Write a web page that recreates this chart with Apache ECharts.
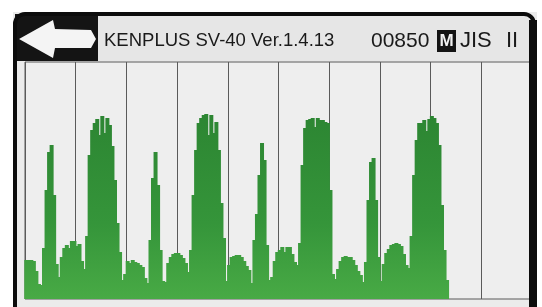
<!DOCTYPE html>
<html>
<head>
<meta charset="utf-8">
<script src="https://cdn.jsdelivr.net/npm/echarts@6/dist/echarts.min.js"></script>
<style>
  html, body { margin: 0; padding: 0; background: #fff; }
  #chart { width: 542px; height: 307px; }
</style>
</head>
<body>
<div id="chart"></div>
<script>
// header texts
var titleText = 'KENPLUS SV-40 Ver.1.4.13'
var counterText = '00850'
var modeText = 'M'
var stdText1 = 'JIS'
var stdText2 = 'II'

// x grid: 10 divisions of 20 samples
var xMax = 200
var xStep = 20
var yMax = 237

// waveform heights, one per sample
var levels = [
  39, 39, 39, 38, 28, 15, 14, 51, 109, 147,
  154, 104, 35, 22, 42, 51, 54, 51, 58, 58,
  53, 55, 38, 30, 63, 144, 169, 176, 180, 164,
  183, 166, 181, 174, 153, 119, 76, 47, 19, 25,
  38, 36, 39, 37, 36, 34, 32, 21, 16, 59,
  121, 147, 114, 49, 18, 17, 36, 42, 45, 46,
  46, 44, 41, 36, 27, 49, 104, 149, 176, 181,
  184, 185, 164, 184, 166, 177, 149, 96, 61, 18,
  34, 42, 43, 44, 44, 42, 38, 33, 29, 16,
  59, 85, 124, 156, 139, 54, 19, 22, 38, 47,
  49, 52, 47, 52, 52, 45, 37, 34, 56, 134,
  171, 179, 180, 181, 172, 181, 179, 179, 177, 176,
  109, 25, 20, 30, 38, 42, 43, 42, 42, 39,
  34, 28, 24, 17, 37, 99, 137, 141, 99, 42,
  18, 35, 46, 50, 54, 55, 56, 55, 53, 45,
  34, 31, 63, 124, 159, 176, 176, 179, 168, 180,
  183, 181, 176, 154, 94, 49, 19
]

var chart = echarts.init(document.getElementById('chart'))

chart.setOption({
  backgroundColor: '#ebebeb',
  animation: false,
  grid: {
    left: 25,
    right: 10,
    top: 62,
    bottom: 8,
    show: true,
    borderColor: '#5a5a5a',
    borderWidth: 1,
    backgroundColor: '#eeeeee'
  },
  xAxis: {
    type: 'value',
    min: 0,
    max: xMax,
    interval: xStep,
    axisLabel: { show: false },
    axisTick: { show: false },
    axisLine: { show: false },
    splitLine: { show: true, lineStyle: { color: '#5a5a5a', width: 1 } }
  },
  yAxis: {
    type: 'value',
    min: 0,
    max: yMax,
    axisLabel: { show: false },
    axisTick: { show: false },
    axisLine: { show: false },
    splitLine: { show: false }
  },
  series: [{
    type: 'bar',
    barWidth: 4,
    data: levels.map(function (v, i) { return [i + 0.5, v] }),
    itemStyle: {
      color: new echarts.graphic.LinearGradient(0, 110, 0, 299, [
        { offset: 0, color: '#2c8532' },
        { offset: 0.6, color: '#35953a' },
        { offset: 1, color: '#48aa45' }
      ], true)
    },
    z: 3
  }],
  graphic: [
    // white photo margins outside the device frame
    { type: 'rect', z: 100, shape: { x: 0, y: 0, width: 542, height: 12 }, style: { fill: '#fff' } },
    { type: 'rect', z: 100, shape: { x: 0, y: 0, width: 13, height: 307 }, style: { fill: '#fff' } },
    { type: 'rect', z: 100, shape: { x: 537, y: 0, width: 5, height: 307 }, style: { fill: '#fff' } },
    // header strip
    { type: 'rect', z: 101, shape: { x: 15, y: 14, width: 516, height: 47 }, style: { fill: '#e6e6e6' } },
    // back button
    { type: 'rect', z: 102, shape: { x: 15, y: 14, width: 83, height: 47 }, style: { fill: '#141414' } },
    {
      type: 'polygon', z: 103,
      shape: { points: [[19, 39], [53, 20], [55, 29], [91, 30], [96, 39], [91, 48], [55, 48], [53, 58]] },
      style: { fill: '#f4f4f4' }
    },
    {
      type: 'text', z: 103, x: 104, y: 41,
      style: { text: titleText, fill: '#1a1a1a', font: '18.5px "Liberation Sans", Arial, sans-serif', verticalAlign: 'middle' }
    },
    {
      type: 'text', z: 103, x: 371, y: 41,
      style: { text: counterText, fill: '#1a1a1a', font: '21px "Liberation Sans", Arial, sans-serif', verticalAlign: 'middle' }
    },
    { type: 'rect', z: 103, shape: { x: 437, y: 30, width: 19, height: 22 }, style: { fill: '#141414' } },
    {
      type: 'text', z: 104, x: 446.5, y: 41,
      style: { text: modeText, fill: '#f0f0f0', font: 'bold 17px "Liberation Sans", Arial, sans-serif', align: 'center', verticalAlign: 'middle' }
    },
    {
      type: 'text', z: 103, x: 460, y: 41,
      style: { text: stdText1, fill: '#1a1a1a', font: '22px "Liberation Sans", Arial, sans-serif', verticalAlign: 'middle' }
    },
    {
      type: 'text', z: 103, x: 506, y: 41,
      style: { text: stdText2, fill: '#1a1a1a', font: '22px "Liberation Sans", Arial, sans-serif', verticalAlign: 'middle' }
    },
    // device frame
    {
      type: 'rect', z: 105,
      shape: { x: 15, y: 14, width: 519, height: 320, r: 10 },
      style: { fill: 'none', stroke: '#0c0c0c', lineWidth: 4 }
    },
    { type: 'rect', z: 105, shape: { x: 529, y: 20, width: 8, height: 287 }, style: { fill: '#0c0c0c' } }
  ]
})
</script>
</body>
</html>
